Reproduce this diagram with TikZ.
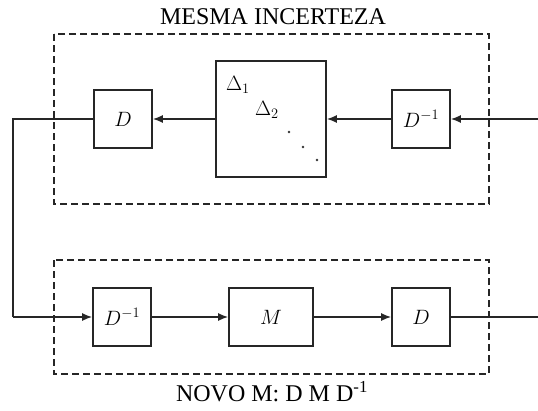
\documentclass[tikz,border=0pt]{standalone}
\usepackage{fontspec}
\setmainfont{Liberation Serif}
\usetikzlibrary{arrows.meta}
\begin{document}
\begin{tikzpicture}[x=1pt,y=-1pt,
  blk/.style={draw=black!85,line width=1.7pt,minimum height=58pt,inner sep=0pt,font=\fontsize{22}{26}\selectfont},
  frame/.style={draw=black!85,line width=1.3pt,dash pattern=on 7pt off 4pt},
  conn/.style={draw=black!85,line width=1.5pt},
  arr/.style={conn,-{Latex[length=10pt,width=8pt]}},
  ttl/.style={font=\fontsize{24}{28}\selectfont}]
\useasboundingbox (0,0) rectangle (538,410);
% frames
\draw[frame] (54,34) rectangle (489,204);
\draw[frame] (54,260) rectangle (489,374);
\node[ttl] (t1) at (273,17) {MESMA INCERTEZA};
\node[ttl] (t2) at (272,392) {NOVO M: D M D\textsuperscript{-1}};
% top row
\node[blk,minimum width=58pt] (D1) at (123,119) {$D$};
\node[blk,minimum width=110pt,minimum height=116pt] (Del) at (271,119) {};
\node[blk,minimum width=58pt] (Di1) at (421,119) {$D^{-1}$};
\node[anchor=base west,inner sep=0pt,font=\fontsize{22}{26}\selectfont] (d1) at (226,90) {$\Delta_1$};
\node[anchor=base west,inner sep=0pt,font=\fontsize{22}{26}\selectfont] (d2) at (255,115) {$\Delta_2$};
\fill[black!80] (289,132) circle (1.3) (303,147) circle (1.3) (317,160) circle (1.3);
% bottom row
\node[blk,minimum width=58pt] (Di2) at (122,317) {$D^{-1}$};
\node[blk,minimum width=84pt] (M) at (271,317) {$M$};
\node[blk,minimum width=58pt] (D2) at (421,317) {$D$};
\coordinate (inR) at (538,119);
\coordinate (outR) at (538,317);
\coordinate (cTL) at (13,119);
\coordinate (cBL) at (13,317);
% connectors
\draw[arr] (inR) -- (Di1.east);
\draw[arr] (Di1.west) -- (Del.east);
\draw[arr] (Del.west) -- (D1.east);
\draw[conn] (D1.west) -- (cTL) -- (cBL);
\draw[arr] (cBL) -- (Di2.west);
\draw[arr] (Di2.east) -- (M.west);
\draw[arr] (M.east) -- (D2.west);
\draw[conn] (D2.east) -- (outR);
\end{tikzpicture}
\end{document}
